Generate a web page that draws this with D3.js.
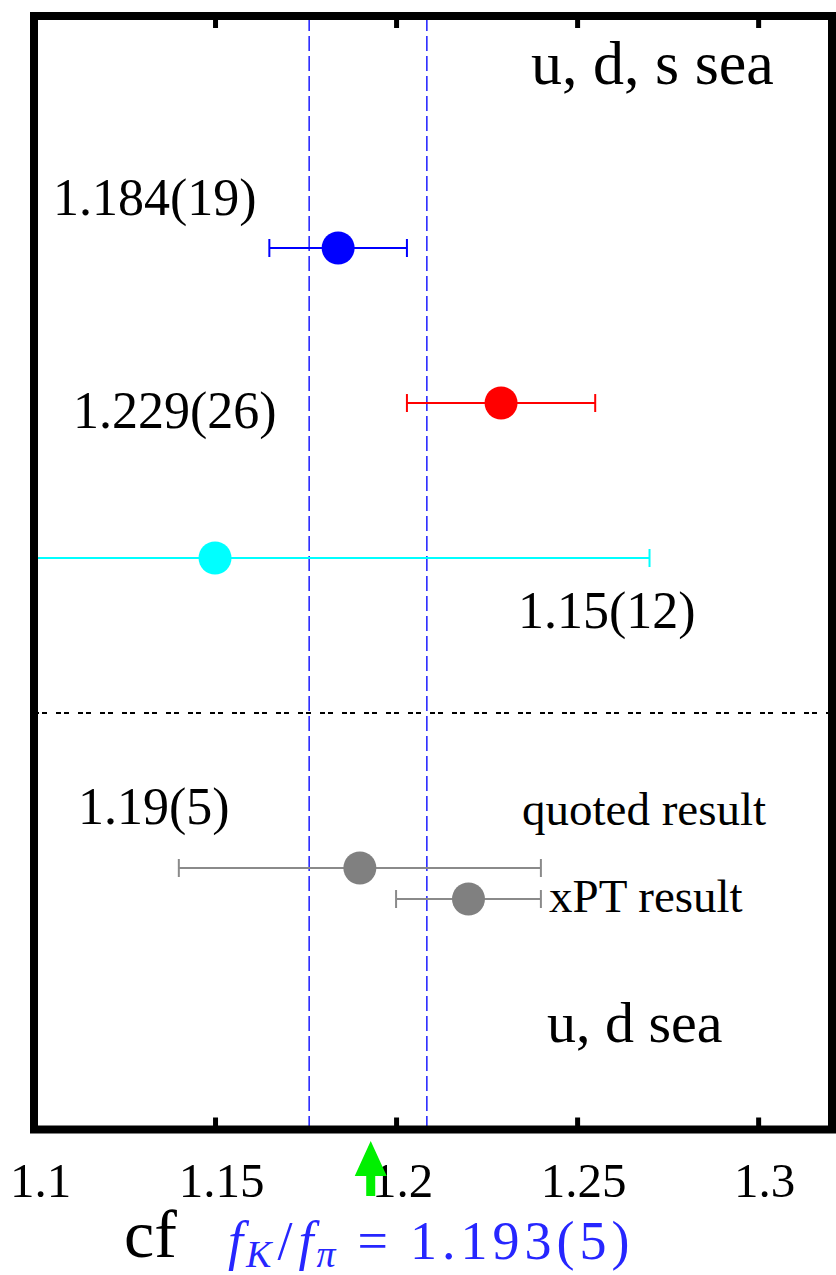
<!DOCTYPE html>
<html>
<head>
<meta charset="utf-8">
<script src="https://cdn.jsdelivr.net/npm/d3@7"></script>
<style>
  html, body { margin: 0; padding: 0; background: #fff; }
  svg { display: block; }
  text { font-family: "Liberation Serif", "DejaVu Serif", serif; fill: #000; }
</style>
</head>
<body>
<svg id="chart" width="836" height="1275"></svg>
<script>
// ---- data ----
const xTicks = [1.1, 1.15, 1.2, 1.25, 1.3];
const resultNames = ["ud s sea A", "ud s sea B", "ud s sea C", "ud sea quoted", "ud sea xPT"];
const resultValues = [1.184, 1.229, 1.15, 1.19, 1.22];
const resultErrors = [0.019, 0.026, 0.12, 0.05, 0.02];
const resultRows = [1, 2, 3, 5, 5.2];
const resultGroups = ["blue", "red", "cyan", "gray", "gray"];
const valueLabels = ["1.184(19)", "1.229(26)", "1.15(12)", "1.19(5)"];
const bandLimits = [1.176, 1.2085];
const referenceValue = 1.193;
const separatorRow = 4;

// ---- styles ----
const groupColor = { blue: "#0000ff", red: "#ff0000", cyan: "#00ffff", gray: "#808080" };
const barColor = { blue: "#0000ff", red: "#ff0000", cyan: "#00ffff", gray: "#8a8a8a" };

const svg = d3.select("#chart");
const frame = { left: 34, right: 832, top: 16, bottom: 1129.5 };

const x = d3.scaleLinear().domain([1.1, 1.3204]).range([frame.left, frame.right]);
const y = d3.scaleLinear().domain([-0.497, 6.687]).range([frame.top, frame.bottom]);

svg.append("clipPath").attr("id", "plot-clip")
  .append("rect")
  .attr("x", frame.left).attr("y", frame.top)
  .attr("width", frame.right - frame.left).attr("height", frame.bottom - frame.top);

const plot = svg.append("g").attr("clip-path", "url(#plot-clip)");

// band of the reference value
plot.selectAll("line.band").data(bandLimits).join("line")
  .attr("class", "band")
  .attr("x1", d => x(d)).attr("x2", d => x(d))
  .attr("y1", frame.top).attr("y2", frame.bottom)
  .attr("stroke", "#2a2aff").attr("stroke-width", 1.6)
  .attr("stroke-dasharray", "15,5");

// separator between the two sea sets
plot.append("line")
  .attr("x1", frame.left).attr("x2", frame.right)
  .attr("y1", y(separatorRow)).attr("y2", y(separatorRow))
  .attr("stroke", "#000").attr("stroke-width", 2)
  .attr("stroke-dasharray", "5,3,5,9");

const results = resultValues.map((v, i) => ({
  name: resultNames[i], value: v, err: resultErrors[i], row: resultRows[i], group: resultGroups[i]
}));

// error bars
const bars = plot.selectAll("g.bar").data(results).join("g").attr("class", "bar")
  .attr("stroke", d => barColor[d.group]).attr("stroke-width", 2);
bars.append("line")
  .attr("x1", d => x(d.value - d.err)).attr("x2", d => x(d.value + d.err))
  .attr("y1", d => y(d.row)).attr("y2", d => y(d.row));
bars.append("line")
  .attr("x1", d => x(d.value - d.err)).attr("x2", d => x(d.value - d.err))
  .attr("y1", d => y(d.row) - 9).attr("y2", d => y(d.row) + 9);
bars.append("line")
  .attr("x1", d => x(d.value + d.err)).attr("x2", d => x(d.value + d.err))
  .attr("y1", d => y(d.row) - 9).attr("y2", d => y(d.row) + 9);

// central values
plot.selectAll("circle.pt").data(results).join("circle")
  .attr("class", "pt")
  .attr("cx", d => x(d.value)).attr("cy", d => y(d.row)).attr("r", 16.5)
  .attr("fill", d => groupColor[d.group]);

// frame
svg.append("rect")
  .attr("x", frame.left).attr("y", frame.top)
  .attr("width", frame.right - frame.left).attr("height", frame.bottom - frame.top)
  .attr("fill", "none").attr("stroke", "#000").attr("stroke-width", 8);

// ticks on top and bottom edges, labels below
const bottomAxis = d3.axisBottom(x).tickValues(xTicks).tickSize(-12).tickPadding(34)
  .tickFormat(d3.format(""));
const gB = svg.append("g").attr("transform", `translate(0,${frame.bottom})`).call(bottomAxis);
gB.select(".domain").remove();
gB.selectAll(".tick line").attr("stroke", "#000").attr("stroke-width", 5)
  .attr("y2", d => d === 1.1 ? 0 : -12);
gB.selectAll(".tick text")
  .attr("font-size", 49).attr("font-family", "Liberation Serif")
  .attr("fill", "#000").attr("dx", 6).attr("dy", "0.69em");

const topAxis = d3.axisTop(x).tickValues(xTicks).tickSize(-12).tickFormat("");
const gT = svg.append("g").attr("transform", `translate(0,${frame.top})`).call(topAxis);
gT.select(".domain").remove();
gT.selectAll(".tick line").attr("stroke", "#000").attr("stroke-width", 5)
  .attr("y2", d => d === 1.1 ? 0 : 12);

// value labels beside the points
const labelPlacement = [
  { x: 53, y: 215 },
  { x: 73, y: 428 },
  { x: 518, y: 628 },
  { x: 78, y: 824 }
];
svg.selectAll("text.val").data(valueLabels).join("text")
  .attr("class", "val")
  .attr("x", (d, i) => labelPlacement[i].x).attr("y", (d, i) => labelPlacement[i].y)
  .attr("font-size", 52)
  .text(d => d);

// annotations
svg.append("text").attr("x", 531).attr("y", 84).attr("font-size", 62).text("u, d, s sea");
svg.append("text").attr("x", 547).attr("y", 1042).attr("font-size", 58).text("u, d sea");
svg.append("text").attr("x", 522).attr("y", 825).attr("font-size", 47).text("quoted result");
svg.append("text").attr("x", 549).attr("y", 912).attr("font-size", 47).text("xPT result");

// reference arrow
const ax = x(referenceValue);
svg.append("path")
  .attr("d", `M${ax},1141 L${ax + 16},1176 L${ax + 4.5},1176 L${ax + 4.5},1196 L${ax - 4.5},1196 L${ax - 4.5},1176 L${ax - 16},1176 Z`)
  .attr("fill", "#00f000");

// caption
svg.append("text").attr("x", 124).attr("y", 1257).attr("font-size", 68).text("cf");
const cap = svg.append("text").attr("x", 228).attr("y", 1259).attr("font-size", 54)
  .style("fill", "#2626ff");
cap.append("tspan").attr("font-style", "italic").text("f");
cap.append("tspan").attr("font-style", "italic").attr("font-size", 38).attr("dy", 8).attr("dx", 3).text("K");
cap.append("tspan").attr("dy", -8).attr("dx", 6).text("/");
cap.append("tspan").attr("font-style", "italic").attr("dx", 6).text("f");
cap.append("tspan").attr("font-style", "italic").attr("font-size", 38).attr("dy", 8).attr("dx", 3).text("π");
cap.append("tspan").attr("dy", -8).attr("dx", 22).text("=");
cap.append("tspan").attr("dx", 22).attr("letter-spacing", 5).text("1.193(5)");
</script>
</body>
</html>
